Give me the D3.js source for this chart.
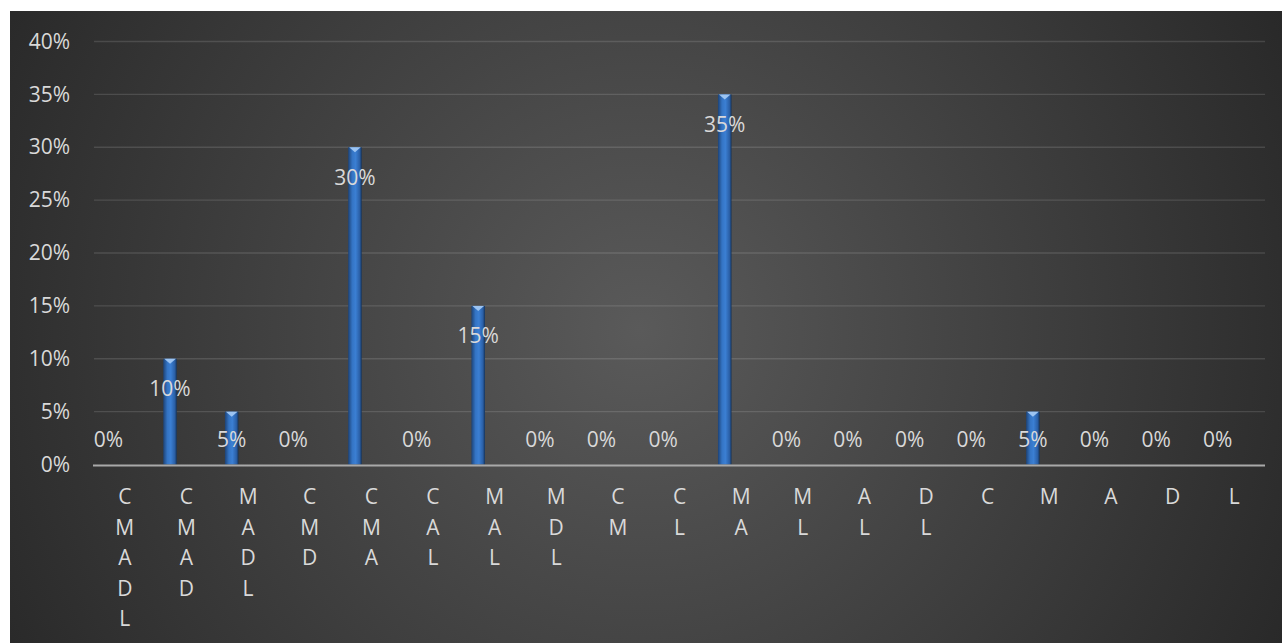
<!DOCTYPE html>
<html>
<head>
<meta charset="utf-8">
<script src="https://cdn.jsdelivr.net/npm/d3@7"></script>
<style>
  html, body { margin: 0; padding: 0; background: #fff; }
  svg { display: block; }
</style>
</head>
<body>
<div id="chart"></div>
<script>
// categories (letters stacked vertically under each column)
const categories = [
  "CMADL", "CMAD", "MADL", "CMD", "CMA", "CAL", "MAL", "MDL", "CM", "CL",
  "MA", "ML", "AL", "DL", "C", "M", "A", "D", "L"
];
// share of respondents per combination
const values = [0, 0.10, 0.05, 0, 0.30, 0, 0.15, 0, 0, 0,
                0.35, 0, 0, 0, 0, 0.05, 0, 0, 0];
const yTicks = [0, 0.05, 0.10, 0.15, 0.20, 0.25, 0.30, 0.35, 0.40];

const W = 1283, H = 643;
const PANEL = { x: 10, y: 11, w: 1272, h: 632 };
const PLOT  = { left: 94, right: 1265, top: 41.5, bottom: 464.5 };
const TEXT_COLOR = "#d9d9d9";
const FONT_SIZE = 21;
const FONT = "'Open Sans', 'Noto Sans', sans-serif";

const svg = d3.select("#chart").append("svg")
  .attr("width", W).attr("height", H)
  .style("font-family", FONT);

const defs = svg.append("defs");

// dark radial background
const bg = defs.append("radialGradient")
  .attr("id", "bgGrad")
  .attr("gradientUnits", "userSpaceOnUse")
  .attr("cx", 640).attr("cy", 330).attr("r", 760);
bg.append("stop").attr("offset", "0%").attr("stop-color", "#5a5a5a");
bg.append("stop").attr("offset", "100%").attr("stop-color", "#262626");

// cylinder-ish bar fill
const barGrad = defs.append("linearGradient")
  .attr("id", "barGrad").attr("x1", "0%").attr("x2", "100%");
[["0%", "#1d4377"], ["30%", "#3474c4"], ["55%", "#3b7fd3"], ["85%", "#2a5fa6"], ["100%", "#163358"]]
  .forEach(([o, c]) => barGrad.append("stop").attr("offset", o).attr("stop-color", c));

svg.append("rect")
  .attr("x", PANEL.x).attr("y", PANEL.y)
  .attr("width", PANEL.w).attr("height", PANEL.h)
  .attr("fill", "url(#bgGrad)");

// ── scales ──
const x = d3.scaleBand()
  .domain(categories)
  .range([PLOT.left, PLOT.right])
  .padding(0);

// bars sit in the left part of each category slot (first of the clustered series)
const xBar = d3.scaleBand()
  .domain(categories)
  .range([PLOT.left - 16.4, PLOT.right - 16.4])
  .paddingInner(0.78)
  .paddingOuter(0.39);

const y = d3.scaleLinear()
  .domain([0, 0.40])
  .range([PLOT.bottom, PLOT.top]);

// ── gridlines ──
svg.append("g")
  .selectAll("line")
  .data(yTicks.filter(t => t > 0))
  .join("line")
  .attr("x1", PLOT.left).attr("x2", PLOT.right)
  .attr("y1", d => y(d)).attr("y2", d => y(d))
  .attr("stroke", "rgba(255,255,255,0.13)")
  .attr("stroke-width", 1.3);

// ── y axis labels ──
const yAxis = d3.axisLeft(y)
  .tickValues(yTicks)
  .tickFormat(d3.format(".0%"))
  .tickSize(0)
  .tickPadding(0);

const yAxisG = svg.append("g")
  .attr("transform", `translate(${PLOT.left - 24},0)`)
  .call(yAxis);
yAxisG.select(".domain").remove();
yAxisG.selectAll("text")
  .attr("fill", TEXT_COLOR)
  .attr("font-size", FONT_SIZE)
  .attr("font-family", FONT);

// ── bars ──
const barG = svg.append("g");
categories.forEach((c, i) => {
  const v = values[i];
  if (v <= 0) return;
  const bx = xBar(c), bw = xBar.bandwidth();
  const top = y(v);
  barG.append("rect")
    .attr("x", bx).attr("y", top)
    .attr("width", bw).attr("height", y(0) - top)
    .attr("fill", "url(#barGrad)");
  // light bevel on the top face
  barG.append("path")
    .attr("d", `M${bx + 1},${top} L${bx + bw - 1},${top} L${bx + bw / 2},${top + 5} Z`)
    .attr("fill", "#9cc4f2");
});

// ── baseline ──
svg.append("line")
  .attr("x1", PLOT.left - 1).attr("x2", PLOT.right)
  .attr("y1", y(0) + 1).attr("y2", y(0) + 1)
  .attr("stroke", "#a9a9a9")
  .attr("stroke-width", 2.2);

// ── data labels ──
svg.append("g")
  .selectAll("text")
  .data(categories)
  .join("text")
  .attr("x", d => xBar(d) + xBar.bandwidth() / 2)
  .attr("y", (d, i) => Math.min(y(values[i]) + 30, y(0) - 25))
  .attr("dy", "0.35em")
  .attr("text-anchor", "middle")
  .attr("font-size", FONT_SIZE)
  .attr("fill", TEXT_COLOR)
  .text((d, i) => d3.format(".0%")(values[i]));

// ── category labels: one letter per line ──
const catG = svg.append("g");
categories.forEach(c => {
  const t = catG.append("text")
    .attr("text-anchor", "middle")
    .attr("font-size", FONT_SIZE)
    .attr("fill", TEXT_COLOR);
  c.split("").forEach((ch, k) => {
    t.append("tspan")
      .attr("x", x(c) + x.bandwidth() / 2)
      .attr("y", 497 + k * 30.5)
      .attr("dy", "0.35em")
      .text(ch);
  });
});
</script>
</body>
</html>
